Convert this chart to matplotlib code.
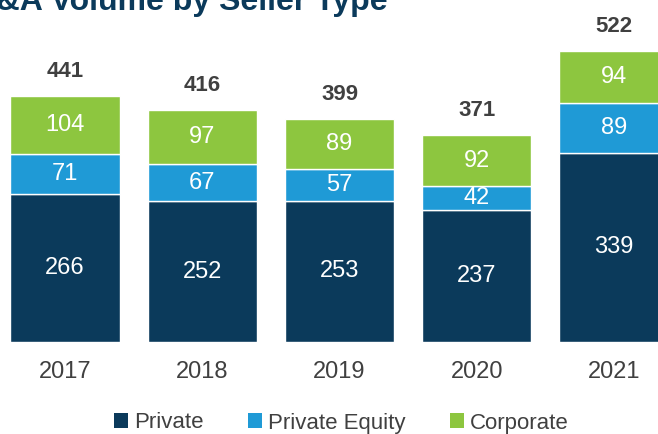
import matplotlib.pyplot as plt
import numpy as np
from matplotlib.patches import Patch

plt.rcParams['font.family'] = ['Liberation Sans', 'DejaVu Sans']

years = ['2017', '2018', '2019', '2020', '2021']
private = [266, 252, 253, 237, 339]
private_equity = [71, 67, 57, 42, 89]
corporate = [104, 97, 89, 92, 94]
totals = [441, 416, 399, 371, 522]

series_names = ['Private', 'Private Equity', 'Corporate']
colors = ['#0b3a5b', '#1f9ad6', '#8dc63f']
text_grey = '#404040'

fig = plt.figure(figsize=(6.58, 4.34), dpi=100)
ax = fig.add_axes([0, 92 / 434, 1, 342 / 434])

x = np.arange(len(years))
bottom = np.zeros(len(years))
for vals, col in zip([private, private_equity, corporate], colors):
    bars = ax.bar(x, vals, 0.795, bottom=bottom, color=col,
                  edgecolor='white', linewidth=1)
    for b, v, b0 in zip(bars, vals, bottom):
        ax.text(b.get_x() + b.get_width() / 2, b0 + v / 2, str(v),
                ha='center', va='center', color='white', fontsize=17)
    bottom += np.array(vals)

for xi, t in zip(x, totals):
    ax.text(xi, t + 25, str(t), ha='center', va='bottom',
            color=text_grey, fontsize=16, fontweight='bold')

ax.set_xlim(-65 / 137.25, (658 - 65) / 137.25)
ax.set_ylim(0, 342 / 0.558)
ax.axis('off')

# year labels below the bars
for xi, y in zip(x, years):
    ax.text(xi, -30 / 0.558, y, ha='center', va='center',
            color=text_grey, fontsize=17)

# title runs off the top-left corner, as in the source image
fig.text(388 / 658, 1 - 10 / 434, 'M&A Volume by Seller Type', ha='right',
         va='baseline', color='#0b3a5b', fontsize=23, fontweight='bold')

handles = [Patch(facecolor=c, edgecolor='none') for c in colors]
fig.legend(handles, series_names, loc='center', ncol=3,
           bbox_to_anchor=(341 / 658, 1 - 423 / 434), frameon=False,
           fontsize=16, labelcolor=text_grey, handlelength=0.65,
           handleheight=0.65, handletextpad=0.25, columnspacing=2.0)

fig.savefig('out.png', dpi=100)
